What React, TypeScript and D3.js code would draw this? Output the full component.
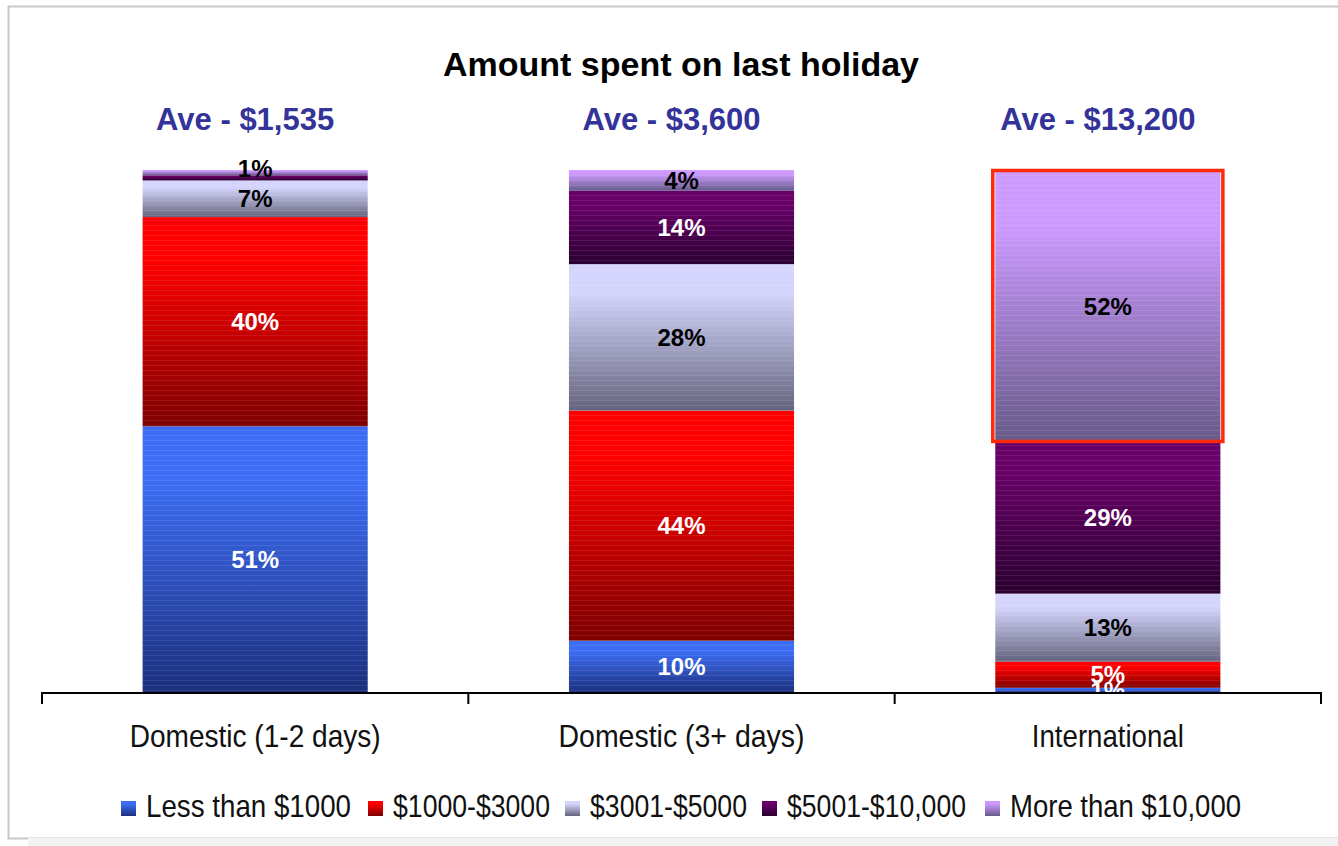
import React, { useRef, useEffect } from 'react';
import * as d3 from 'd3';

const categories = ['Domestic (1-2 days)', 'Domestic (3+ days)', 'International'];
const averages = ['Ave - $1,535', 'Ave - $3,600', 'Ave - $13,200'];
const seriesNames = ['Less than $1000', '$1000-$3000', '$3001-$5000', '$5001-$10,000', 'More than $10,000'];

// percentages per category, bottom to top
const lessThan1000 = [51, 10, 1];
const from1000to3000 = [40, 44, 5];
const from3001to5000 = [7, 28, 13];
const from5001to10000 = [1, 14, 29];
const moreThan10000 = [1, 4, 52];

const seriesValues = [lessThan1000, from1000to3000, from3001to5000, from5001to10000, moreThan10000];

// labels that are not drawn / drawn black on the picture
const hiddenLabels = [['Domestic (1-2 days)', 'More than $10,000']];
const blackLabels = [['Domestic (1-2 days)', '$5001-$10,000']];
const highlighted = ['International', 'More than $10,000'];

const gradTop = ['#3d6df5', '#ff0000', '#d4d4fc', '#680068', '#cc99ff'];
const gradBottom = ['#1b2f7c', '#7e0000', '#64647e', '#2a0030', '#665a88'];
const labelFill = ['#fff', '#fff', '#000', '#fff', '#000'];

const Chart = () => {
  const ref = useRef<SVGSVGElement>(null);

  useEffect(() => {
    const width = 1338;
    const height = 846;
    const svg = d3.select(ref.current);
    svg.selectAll('*').remove();
    svg.attr('width', width).attr('height', height);

    //gradients + stripes
    const defs = svg.append('defs');
    seriesNames.forEach((s, i) => {
      const g = defs.append('linearGradient')
        .attr('id', `grad${i}`)
        .attr('x1', 0).attr('y1', 0).attr('x2', 0).attr('y2', 1);
      g.append('stop').attr('offset', '0').attr('stop-color', gradTop[i]);
      g.append('stop').attr('offset', '0.2').attr('stop-color', gradTop[i]);
      g.append('stop').attr('offset', '1').attr('stop-color', gradBottom[i]);
    });
    const pat = defs.append('pattern')
      .attr('id', 'stripes')
      .attr('patternUnits', 'userSpaceOnUse')
      .attr('width', 8).attr('height', 5);
    pat.append('rect').attr('x', 0).attr('y', 0).attr('width', 8).attr('height', 1)
      .attr('fill', '#fff').attr('opacity', 0.09);

    //frame
    svg.append('rect').attr('x', 0).attr('y', 0).attr('width', width).attr('height', height).attr('fill', '#fff');
    svg.append('rect').attr('x', 8.5).attr('y', 6.5).attr('width', width).attr('height', 832)
      .attr('fill', 'none').attr('stroke', '#c8c8c8').attr('stroke-width', 2);
    svg.append('rect').attr('x', 28).attr('y', 838).attr('width', width).attr('height', 8).attr('fill', '#f2f2f2');

    //scales
    const x = d3.scaleBand()
      .domain(categories)
      .range([42, 1321])
      .paddingInner(0.472)
      .paddingOuter(0.236);
    const y = d3.scaleLinear().domain([0, 100]).range([693, 170]);

    const stacked = d3.stack<number>()
      .keys(seriesNames.map((_, i) => String(i)))
      .value((d, key) => seriesValues[+key][d])(categories.map((_, i) => i));

    const isIn = (list: string[][], c: string, s: string) => list.some(p => p[0] === c && p[1] === s);

    //bars
    stacked.forEach((layer, si) => {
      const g = svg.append('g');
      layer.forEach((seg, ci) => {
        const bx = x(categories[ci])!;
        const y0 = y(seg[1]);
        const h = y(seg[0]) - y(seg[1]);
        g.append('rect').attr('x', bx).attr('y', y0).attr('width', x.bandwidth()).attr('height', h)
          .attr('fill', `url(#grad${si})`);
        g.append('rect').attr('x', bx).attr('y', y0).attr('width', x.bandwidth()).attr('height', h)
          .attr('fill', 'url(#stripes)');
      });
    });

    //segment labels
    stacked.forEach((layer, si) => {
      layer.forEach((seg, ci) => {
        const c = categories[ci];
        const s = seriesNames[si];
        if (isIn(hiddenLabels, c, s)) return;
        const black = isIn(blackLabels, c, s);
        svg.append('text')
          .attr('x', x(c)! + x.bandwidth() / 2)
          .attr('y', (y(seg[0]) + y(seg[1])) / 2 + (black ? -9 : 0))
          .attr('dy', '0.36em')
          .attr('text-anchor', 'middle')
          .style('font-family', 'Liberation Sans, Arial, sans-serif')
          .style('font-weight', 'bold')
          .style('font-size', '24px')
          .attr('fill', black ? '#000' : labelFill[si])
          .text(`${seriesValues[si][ci]}%`);
      });
    });

    //highlight box
    const hi = categories.indexOf(highlighted[0]);
    const hs = seriesNames.indexOf(highlighted[1]);
    const hseg = stacked[hs][hi];
    svg.append('rect')
      .attr('x', x(highlighted[0])! - 2.5)
      .attr('y', y(hseg[1]) + 0.5)
      .attr('width', x.bandwidth() + 5)
      .attr('height', y(hseg[0]) - y(hseg[1]) - 1)
      .attr('fill', 'none')
      .attr('stroke', '#ff2a0a')
      .attr('stroke-width', 3.5);

    //axis
    const ax = svg.append('g').attr('stroke', '#000').attr('stroke-width', 2);
    ax.append('line').attr('x1', 42).attr('x2', 1321).attr('y1', 693).attr('y2', 693);
    d3.range(categories.length + 1).forEach(i => {
      const tx = 42 + i * x.step();
      ax.append('line').attr('x1', tx).attr('x2', tx).attr('y1', 692).attr('y2', 704);
    });

    const narrow = 'Liberation Sans Narrow, Liberation Sans, Arial, sans-serif';
    const catWidths = [251, 246, 152];
    categories.forEach((c, i) => {
      svg.append('text')
        .attr('x', x(c)! + x.bandwidth() / 2)
        .attr('y', 747)
        .attr('text-anchor', 'middle')
        .attr('textLength', catWidths[i])
        .attr('lengthAdjust', 'spacingAndGlyphs')
        .style('font-family', narrow)
        .style('font-size', '32px')
        .attr('fill', '#111')
        .text(c);
    });

    //averages
    averages.forEach((a, i) => {
      svg.append('text')
        .attr('x', x(categories[i])! + x.bandwidth() / 2 - 10)
        .attr('y', 130)
        .attr('text-anchor', 'middle')
        .style('font-family', 'Liberation Sans, Arial, sans-serif')
        .style('font-weight', 'bold')
        .style('font-size', '31px')
        .attr('fill', '#333399')
        .text(a);
    });

    //title
    svg.append('text')
      .attr('x', 681)
      .attr('y', 76)
      .attr('text-anchor', 'middle')
      .style('font-family', 'Liberation Sans, Arial, sans-serif')
      .style('font-weight', 'bold')
      .style('font-size', '34px')
      .attr('fill', '#000')
      .text('Amount spent on last holiday');

    //legend
    const legX = [121, 368, 565, 762, 985];
    const legW = [205, 157, 157, 179, 231];
    const leg = svg.append('g');
    seriesNames.forEach((s, i) => {
      leg.append('rect').attr('x', legX[i]).attr('y', 801).attr('width', 15).attr('height', 15)
        .attr('fill', `url(#grad${i})`);
      leg.append('text')
        .attr('x', legX[i] + 25)
        .attr('y', 817)
        .attr('textLength', legW[i])
        .attr('lengthAdjust', 'spacingAndGlyphs')
        .style('font-family', narrow)
        .style('font-size', '32px')
        .attr('fill', '#111')
        .text(s);
    });
  }, []);

  return <svg ref={ref} style={{ position: 'absolute', left: 0, top: 0 }}></svg>;
};

export default function App() {
  return <Chart />;
}
